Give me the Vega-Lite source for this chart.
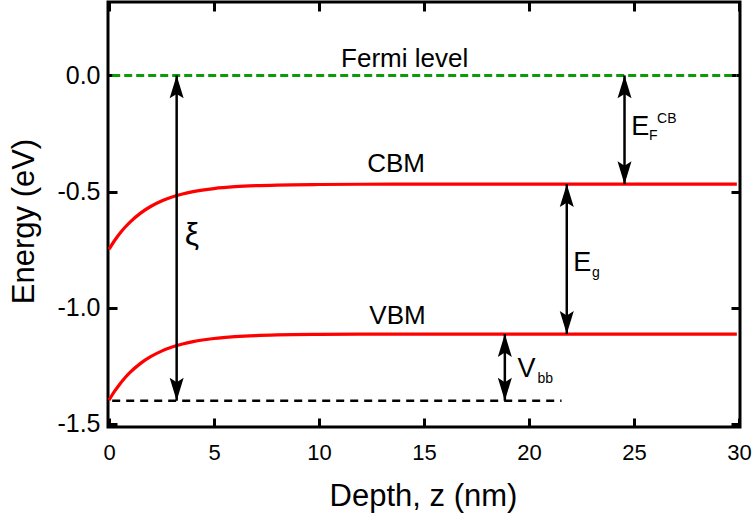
{
  "$schema": "https://vega.github.io/schema/vega-lite/v6.json",
  "width": 632,
  "height": 425,
  "autosize": {"type": "none"},
  "padding": {"left": 108, "top": 2, "right": 14, "bottom": 91},
  "config": {
    "font": "Liberation Sans",
    "view": {"stroke": "black", "strokeWidth": 3},
    "axis": {"grid": false, "domain": false, "tickColor": "black", "tickWidth": 3, "tickSize": -9, "labelColor": "black", "titleColor": "black", "titleFontWeight": "normal"}
  },
  "datasets": {
    "curves": [
      {"z": 0, "E": -0.748, "band": "CBM"}, {"z": 0.25, "E": -0.7126, "band": "CBM"}, {"z": 0.5, "E": -0.6817, "band": "CBM"},
      {"z": 0.75, "E": -0.6547, "band": "CBM"}, {"z": 1, "E": -0.6311, "band": "CBM"}, {"z": 1.5, "E": -0.5925, "band": "CBM"},
      {"z": 2, "E": -0.563, "band": "CBM"}, {"z": 2.5, "E": -0.5405, "band": "CBM"}, {"z": 3, "E": -0.5233, "band": "CBM"},
      {"z": 3.5, "E": -0.5102, "band": "CBM"}, {"z": 4, "E": -0.5002, "band": "CBM"}, {"z": 5, "E": -0.4868, "band": "CBM"},
      {"z": 6, "E": -0.4789, "band": "CBM"}, {"z": 7, "E": -0.4744, "band": "CBM"}, {"z": 8, "E": -0.4717, "band": "CBM"},
      {"z": 10, "E": -0.4693, "band": "CBM"}, {"z": 12, "E": -0.4684, "band": "CBM"}, {"z": 15, "E": -0.4681, "band": "CBM"},
      {"z": 29.9, "E": -0.468, "band": "CBM"},
      {"z": 0, "E": -1.397, "band": "VBM"}, {"z": 0.25, "E": -1.3611, "band": "VBM"}, {"z": 0.5, "E": -1.3297, "band": "VBM"},
      {"z": 0.75, "E": -1.3023, "band": "VBM"}, {"z": 1, "E": -1.2784, "band": "VBM"}, {"z": 1.5, "E": -1.2392, "band": "VBM"},
      {"z": 2, "E": -1.2093, "band": "VBM"}, {"z": 2.5, "E": -1.1865, "band": "VBM"}, {"z": 3, "E": -1.1691, "band": "VBM"},
      {"z": 3.5, "E": -1.1558, "band": "VBM"}, {"z": 4, "E": -1.1457, "band": "VBM"}, {"z": 5, "E": -1.132, "band": "VBM"},
      {"z": 6, "E": -1.1241, "band": "VBM"}, {"z": 7, "E": -1.1194, "band": "VBM"}, {"z": 8, "E": -1.1167, "band": "VBM"},
      {"z": 10, "E": -1.1143, "band": "VBM"}, {"z": 12, "E": -1.1134, "band": "VBM"}, {"z": 15, "E": -1.1131, "band": "VBM"},
      {"z": 29.9, "E": -1.113, "band": "VBM"}
    ],
    "fermi": [{"z": 0.15, "E": 0}, {"z": 29.9, "E": 0}],
    "ref": [{"z": 0.15, "E": -1.4}, {"z": 21.55, "E": -1.4}],
    "arrows": [
      {"name": "xi", "x": 3.22, "top": 0, "bottom": -1.4},
      {"name": "EFCB", "x": 24.55, "top": 0, "bottom": -0.468},
      {"name": "Eg", "x": 21.8, "top": -0.468, "bottom": -1.113},
      {"name": "Vbb", "x": 18.85, "top": -1.113, "bottom": -1.4}
    ],
    "heads": [
      {"x": 3.22, "y": 0, "dir": "up"}, {"x": 3.22, "y": -1.4, "dir": "down"},
      {"x": 24.55, "y": 0, "dir": "up"}, {"x": 24.55, "y": -0.468, "dir": "down"},
      {"x": 21.8, "y": -0.468, "dir": "up"}, {"x": 21.8, "y": -1.113, "dir": "down"},
      {"x": 18.85, "y": -1.113, "dir": "up"}, {"x": 18.85, "y": -1.4, "dir": "down"}
    ],
    "centerLabels": [
      {"x": 14.08, "y": 0.038, "text": "Fermi level"},
      {"x": 13.67, "y": -0.414, "text": "CBM"},
      {"x": 13.74, "y": -1.069, "text": "VBM"}
    ],
    "xiLabel": [{"x": 3.95, "y": -0.728, "text": "ξ"}],
    "bigLabels": [
      {"x": 24.87, "y": -0.256, "text": "E"},
      {"x": 22.11, "y": -0.841, "text": "E"},
      {"x": 19.45, "y": -1.297, "text": "V"}
    ],
    "smallLabels": [
      {"x": 25.72, "y": -0.279, "text": "F"},
      {"x": 26.1, "y": -0.204, "text": "CB"},
      {"x": 23.0, "y": -0.867, "text": "g"},
      {"x": 20.4, "y": -1.323, "text": "bb"}
    ]
  },
  "resolve": {"axis": {"x": "independent", "y": "independent"}},
  "layer": [
    {
      "data": {"name": "curves"},
      "mark": {"type": "line", "color": "#ff0000", "strokeWidth": 3.2, "interpolate": "monotone"},
      "encoding": {
        "x": {"field": "z", "type": "quantitative", "scale": {"domain": [-0.05, 30.05], "nice": false, "zero": false},
          "axis": {"orient": "bottom", "values": [0, 5, 10, 15, 20, 25, 30], "format": "d", "labelFontSize": 22, "labelPadding": 24,
            "title": "Depth, z (nm)", "titleFontSize": 31, "titleX": 315, "titleY": 78, "titleAlign": "center", "titleBaseline": "alphabetic", "titleAnchor": null}},
        "y": {"field": "E", "type": "quantitative", "scale": {"domain": [-1.513, 0.316], "nice": false, "zero": false},
          "axis": {"orient": "left", "values": [0, -0.5, -1, -1.5], "format": ".1f", "labelExpr": "replace(datum.label, '\u2212', '-')", "labelFontSize": 25, "labelPadding": 17,
            "title": "Energy (eV)", "titleFontSize": 31, "titleAngle": -90, "titleX": -84, "titleY": 219, "titleAlign": "center", "titleBaseline": "middle", "titleAnchor": null}},
        "detail": {"field": "band"}
      }
    },
    {
      "data": {"name": "fermi"},
      "mark": {"type": "line", "color": "#0a9a0a", "strokeWidth": 3, "strokeDash": [8, 4]},
      "encoding": {
        "x": {"field": "z", "type": "quantitative", "axis": {"orient": "top", "values": [0, 5, 10, 15, 20, 25, 30], "labels": false, "title": null}},
        "y": {"field": "E", "type": "quantitative", "axis": {"orient": "right", "values": [0, -0.5, -1, -1.5], "labels": false, "title": null}}
      }
    },
    {
      "data": {"name": "ref"},
      "mark": {"type": "line", "color": "black", "strokeWidth": 2.5, "strokeDash": [8, 6]},
      "encoding": {
        "x": {"field": "z", "type": "quantitative", "axis": null},
        "y": {"field": "E", "type": "quantitative", "axis": null}
      }
    },
    {
      "data": {"name": "arrows"},
      "mark": {"type": "rule", "color": "black", "strokeWidth": 2.5},
      "encoding": {
        "x": {"field": "x", "type": "quantitative", "axis": null},
        "y": {"field": "top", "type": "quantitative", "axis": null},
        "y2": {"field": "bottom"}
      }
    },
    {
      "data": {"name": "heads"},
      "mark": {"type": "point", "filled": true, "color": "black", "opacity": 1, "size": 650, "strokeWidth": 0},
      "encoding": {
        "x": {"field": "x", "type": "quantitative", "axis": null},
        "y": {"field": "y", "type": "quantitative", "axis": null},
        "shape": {"field": "dir", "type": "nominal", "legend": null,
          "scale": {"domain": ["up", "down"], "range": ["M0,0 L0.55,1.8 L0,1.45 L-0.55,1.8 Z", "M0,0 L0.55,-1.8 L0,-1.45 L-0.55,-1.8 Z"]}}
      }
    },
    {
      "data": {"name": "centerLabels"},
      "mark": {"type": "text", "fontSize": 26, "align": "center", "baseline": "alphabetic", "color": "black"},
      "encoding": {
        "x": {"field": "x", "type": "quantitative", "axis": null},
        "y": {"field": "y", "type": "quantitative", "axis": null},
        "text": {"field": "text"}
      }
    },
    {
      "data": {"name": "xiLabel"},
      "mark": {"type": "text", "fontSize": 32, "align": "center", "baseline": "alphabetic", "color": "black"},
      "encoding": {
        "x": {"field": "x", "type": "quantitative", "axis": null},
        "y": {"field": "y", "type": "quantitative", "axis": null},
        "text": {"field": "text"}
      }
    },
    {
      "data": {"name": "bigLabels"},
      "mark": {"type": "text", "fontSize": 27, "align": "left", "baseline": "alphabetic", "color": "black"},
      "encoding": {
        "x": {"field": "x", "type": "quantitative", "axis": null},
        "y": {"field": "y", "type": "quantitative", "axis": null},
        "text": {"field": "text"}
      }
    },
    {
      "data": {"name": "smallLabels"},
      "mark": {"type": "text", "fontSize": 14, "align": "left", "baseline": "alphabetic", "color": "black"},
      "encoding": {
        "x": {"field": "x", "type": "quantitative", "axis": null},
        "y": {"field": "y", "type": "quantitative", "axis": null},
        "text": {"field": "text"}
      }
    }
  ]
}
